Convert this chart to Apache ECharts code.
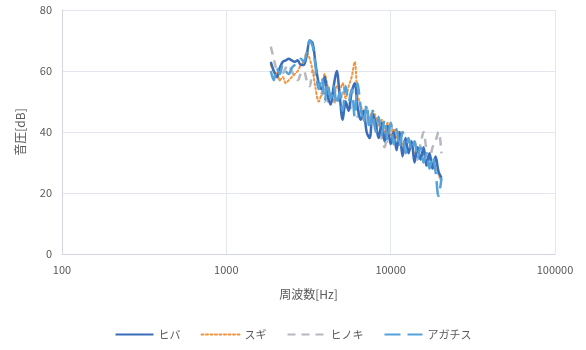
<!DOCTYPE html>
<html>
<head>
<meta charset="utf-8">
<script src="https://cdn.jsdelivr.net/npm/echarts@6/dist/echarts.min.js"></script>
<style>
  html, body { margin: 0; padding: 0; background: #fff; }
  #chart { width: 586px; height: 350px; }
</style>
</head>
<body>
<div id="chart"></div>
<script>
// Measurement frequencies [Hz]
const freqs = [1864, 1944, 2027, 2114, 2205, 2299, 2398, 2500, 2608, 2719,
  2836, 2957, 3084, 3216, 3354, 3498, 3648, 3804, 3967, 4137,
  4315, 4500, 4693, 4894, 5104, 5322, 5551, 5789, 6037, 6296,
  6566, 6847, 7141, 7447, 7766, 8099, 8446, 8808, 9186, 9580,
  9990, 10420, 10860, 11330, 11810, 12320, 12850, 13400, 13970, 14570,
  15200, 15850, 16530, 17240, 17980, 18750, 19550, 20390];

// Sound pressure level [dB] for each wood species
const hiba = [63, 60, 58, 61, 63, 63.5, 64, 63.5, 63, 63.5,
  62, 62, 65, 70, 69, 62, 56, 54, 58, 52,
  49, 55, 60, 52, 44, 50, 47, 53, 56, 48,
  44, 47, 40, 38, 46, 43, 38, 43, 37, 42,
  36, 40, 34, 40, 32, 38, 33, 37, 30, 35,
  31, 35, 29, 33, 28, 32, 27, 25];
const sugi = [62, 60, 59, 57, 58, 56, 57, 58, 59, 60,
  62, 63, 66, 64, 60, 54, 50, 53, 59, 55,
  52, 50, 55, 54, 56, 51, 55, 58, 63, 52,
  49, 46, 48, 44, 47, 45, 42, 44, 40, 43,
  39, 41, 38, 40, 36, 37, 34, 35, 33, 34,
  31, 33, 29, 30, 28, 31, 26, 24];
const hinoki = [68, 64, 60, 57, 59, 61, 62, 60, 58, 57,
  59, 60, 57, 55, 60, 58, 55, 52, 56, 50,
  53, 49, 51, 50, 53, 48, 50, 47, 49, 45,
  47, 44, 46, 42, 44, 41, 43, 38, 35, 41,
  43, 38, 41, 37, 40, 36, 38, 35, 37, 33,
  36, 40, 34, 31, 35, 37, 40, 33];
const agathis = [60, 57, 61, 59, 62, 60, 59, 61, 62, 63,
  64, 63, 66, 70, 68, 61, 54, 58, 50, 56,
  51, 55, 49, 53, 47, 55, 50, 54, 45, 56,
  48, 43, 49, 41, 47, 40, 45, 39, 44, 37,
  43, 36, 41, 35, 40, 33, 38, 34, 37, 31,
  35, 30, 33, 28, 32, 27, 19, 25];

const seriesNames = ['ヒバ', 'スギ', 'ヒノキ', 'アガチス'];
const seriesValues = [hiba, sugi, hinoki, agathis];
const seriesColors = ['#3A6DB8', '#F0943E', '#B5B8BF', '#55A2DA'];
const seriesDash = ['solid', [2, 2.5], [8, 6], [16, 7]];
const seriesWidth = [2.5, 2, 2.5, 2.5];

const font = '"Noto Sans CJK JP", "Noto Sans", sans-serif';
const textColor = '#595959';

const chart = echarts.init(document.getElementById('chart'), null, { renderer: 'canvas' });

chart.setOption({
  animation: false,
  backgroundColor: '#fff',
  textStyle: { fontFamily: font },
  grid: { left: 62, right: 31, top: 10, bottom: 96, containLabel: false },
  legend: {
    bottom: 5,
    left: 'center',
    itemWidth: 38,
    itemHeight: 4,
    itemGap: 20,
    itemStyle: { opacity: 0 },
    textStyle: { color: textColor, fontSize: 11, fontFamily: font },
    data: seriesNames
  },
  xAxis: {
    type: 'log',
    logBase: 10,
    min: 100,
    max: 100000,
    name: '周波数[Hz]',
    nameLocation: 'middle',
    nameGap: 34,
    nameTextStyle: { color: textColor, fontSize: 12 },
    axisLine: { show: true, lineStyle: { color: '#D3D6E2', width: 1 } },
    axisTick: { show: false },
    axisLabel: { color: textColor, fontSize: 11, margin: 10, formatter: v => String(Math.round(v)) },
    splitLine: { show: true, lineStyle: { color: '#E4E6EF', width: 1 } },
    minorTick: { show: false },
    minorSplitLine: { show: false }
  },
  yAxis: {
    type: 'value',
    min: 0,
    max: 80,
    interval: 20,
    name: '音圧[dB]',
    nameLocation: 'middle',
    nameGap: 36,
    nameRotate: 90,
    nameTextStyle: { color: textColor, fontSize: 12 },
    axisLine: { show: true, lineStyle: { color: '#D3D6E2', width: 1 } },
    axisTick: { show: false },
    axisLabel: { color: textColor, fontSize: 11, margin: 10 },
    splitLine: { show: true, lineStyle: { color: '#E4E6EF', width: 1 } }
  },
  series: seriesNames.map((name, k) => ({
    name: name,
    type: 'line',
    data: freqs.map((f, i) => [f, seriesValues[k][i]]),
    smooth: 0.35,
    showSymbol: false,
    symbol: 'none',
    color: seriesColors[k],
    lineStyle: {
      color: seriesColors[k],
      width: seriesWidth[k],
      type: seriesDash[k],
      cap: k === 1 ? 'round' : 'butt'
    },
    z: [4, 3, 2, 5][k]
  }))
});
</script>
</body>
</html>
